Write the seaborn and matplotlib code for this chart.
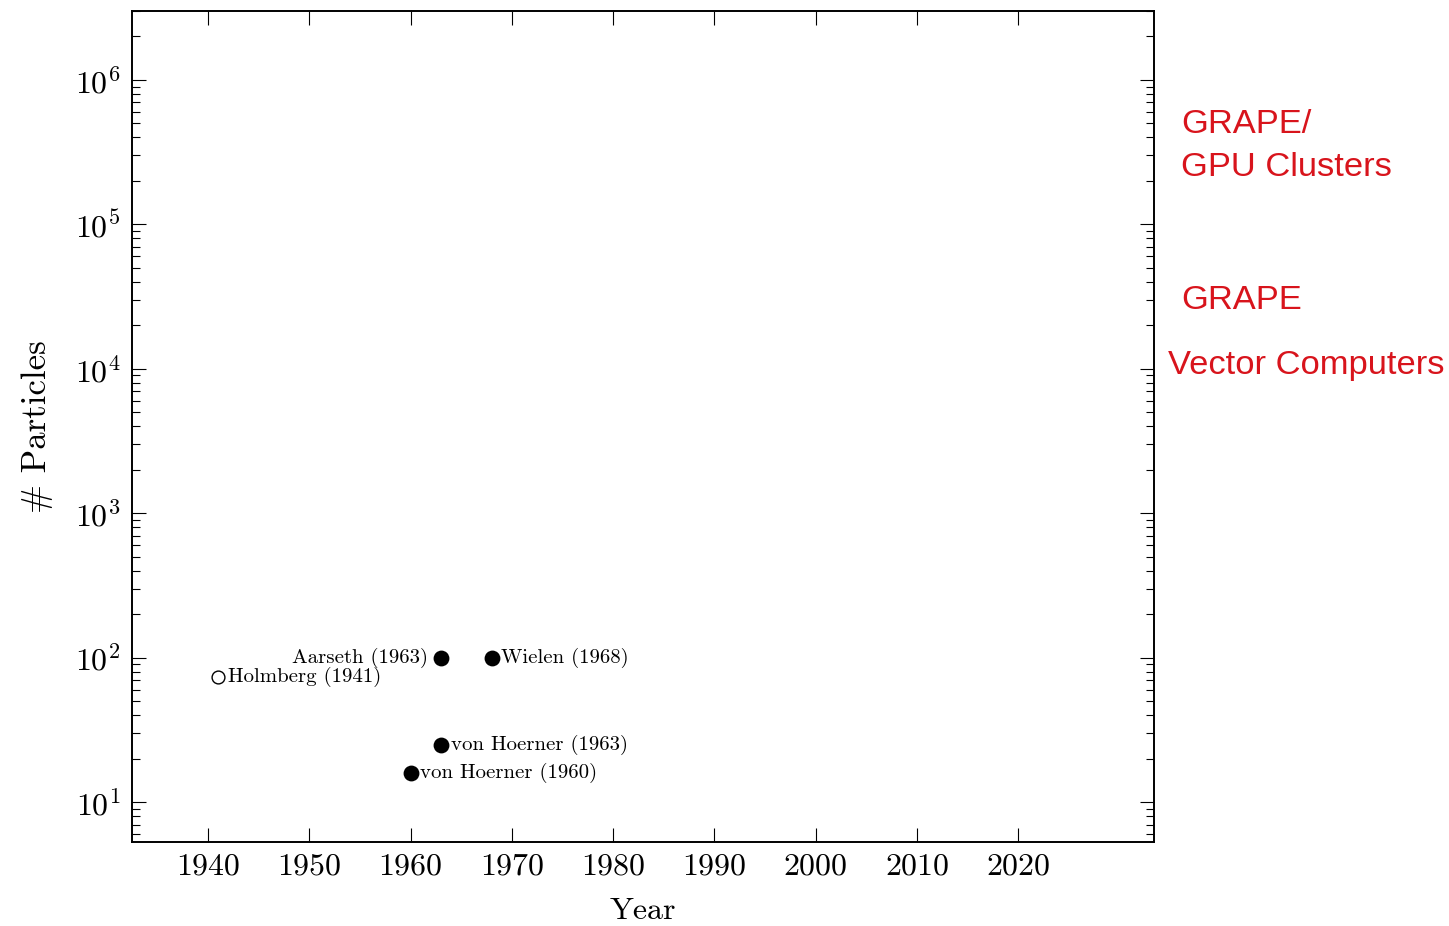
"""
N-body simulation particle counts over time (early milestones).
"""

import matplotlib.pyplot as plt
import numpy as np
import pandas as pd
import seaborn as sns
from matplotlib.ticker import LogLocator, LogFormatterMathtext, NullFormatter

# data
names = ["Holmberg (1941)", "von Hoerner (1960)", "von Hoerner (1963)", "Aarseth (1963)", "Wielen (1968)"]
years = [1941, 1960, 1963, 1963, 1968]
particles = [74, 16, 25, 100, 100]
filled = [False, True, True, True, True]
label_side = ["right", "right", "right", "left", "right"]

year_ticks = [1940, 1950, 1960, 1970, 1980, 1990, 2000, 2010, 2020]
eras = ["GRAPE/\nGPU Clusters", "GRAPE", "Vector Computers"]

df = pd.DataFrame({"name": names, "year": years, "n": particles, "filled": filled, "side": label_side})

sns.set_theme(style="ticks")
plt.rcParams["font.family"] = ["cmr10"]
plt.rcParams["mathtext.fontset"] = "cm"
plt.rcParams["axes.formatter.use_mathtext"] = True
plt.rcParams["text.color"] = "black"
plt.rcParams["axes.labelcolor"] = "black"
plt.rcParams["xtick.color"] = "black"
plt.rcParams["ytick.color"] = "black"

fig = plt.figure(figsize=(14.49, 9.26), dpi=100)
ax = fig.add_axes([0.0911, 0.0907, 0.7053, 0.8974])

sns.scatterplot(data=df[df["filled"]], x="year", y="n", color="black", s=130,
                edgecolor="black", linewidth=0, ax=ax)
sns.scatterplot(data=df[~df["filled"]], x="year", y="n", facecolor="white", s=85,
                edgecolor="black", linewidth=1.0, ax=ax)

for _, row in df.iterrows():
    dx = 7 if row["side"] == "right" else -9
    ha = "left" if row["side"] == "right" else "right"
    ax.annotate(row["name"], (row["year"], row["n"]), xytext=(dx, 0),
                textcoords="offset points", ha=ha, va="center", fontsize=15)

ax.set_yscale("log")
ax.set_xlim(1932.5, 2033.4)
ax.set_ylim(5.3, 3.0e6)
ax.set_xticks(year_ticks)
ax.set_xticklabels([str(y) for y in year_ticks])
ax.yaxis.set_major_locator(LogLocator(base=10, numticks=10))
ax.yaxis.set_major_formatter(LogFormatterMathtext())
ax.yaxis.set_minor_locator(LogLocator(base=10, subs=np.arange(2, 10), numticks=20))
ax.yaxis.set_minor_formatter(NullFormatter())

ax.tick_params(axis="both", which="major", direction="in", top=True, right=True,
               length=10, width=0.8, labelsize=23, pad=8)
ax.tick_params(axis="y", which="minor", direction="in", left=True, right=True,
               length=6, width=0.8)
ax.tick_params(axis="x", which="minor", bottom=False, top=False)

for spine in ax.spines.values():
    spine.set_linewidth(1.4)
    spine.set_color("black")

ax.set_xlabel("Year", fontsize=23, labelpad=12)
ax.set_ylabel("# Particles", fontsize=25, labelpad=16)

era_y = [0.842, 0.676, 0.605]
era_x = [0.815, 0.815, 0.806]
for label, ex, ey in zip(eras, era_x, era_y):
    fig.text(ex, ey, label, color="#d8141c", fontsize=24.8, family=["Liberation Sans"],
             ha="left", va="center", linespacing=1.5)

fig.savefig("out.png", dpi=100)
